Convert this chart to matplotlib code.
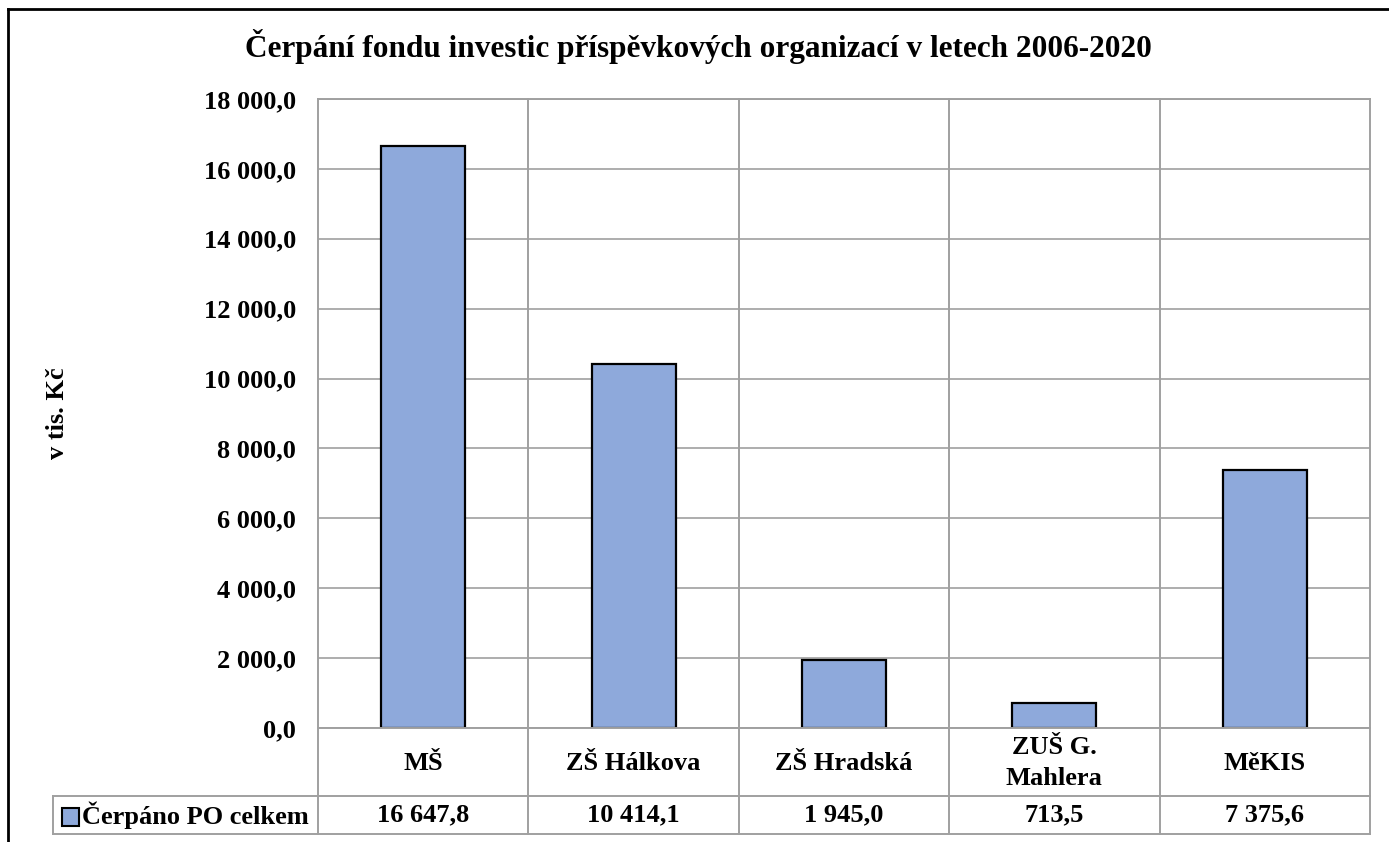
import matplotlib
matplotlib.use("Agg")
import matplotlib.pyplot as plt
from matplotlib.lines import Line2D
from matplotlib.patches import Rectangle
import numpy as np

categories = ["MŠ", "ZŠ Hálkova", "ZŠ Hradská", "ZUŠ G.\nMahlera", "MěKIS"]
values = [16647.8, 10414.1, 1945.0, 713.5, 7375.6]
series_name = "Čerpáno PO celkem"
title = "Čerpání fondu investic příspěvkových organizací v letech 2006-2020"
ylabel = "v tis. Kč"
yticks = list(range(0, 18001, 2000))

def fmt(v):
    s = f"{v:,.1f}".replace(",", " ").replace(".", ",")
    return s

W, H = 1389, 842
plt.rcParams['font.family'] = ['Liberation Serif', 'DejaVu Serif']
plt.rcParams['font.weight'] = 'bold'
fig = plt.figure(figsize=(W / 100, H / 100), dpi=100)

def fx(x): return x / W
def fy(y): return 1 - y / H

L, R, T, B = 318, 1370, 99, 728
ROW1, ROW2 = 796, 834
TL = 53
FS = 19
ax = fig.add_axes([fx(L), fy(B), fx(R) - fx(L), fy(T) - fy(B)])
n = len(categories)
x = np.arange(n)
barcolor = "#8EA9DB"
gridc = "#A0A0A0"
ax.bar(x, values, width=0.4, color=barcolor, edgecolor="black", linewidth=1.6, zorder=3)
ax.set_xlim(-0.5, n - 0.5)
ax.set_ylim(0, 18000)
ax.set_yticks(yticks)
ax.set_yticklabels([fmt(v) for v in yticks], fontsize=FS, fontweight='bold')
ax.tick_params(axis='y', length=0, pad=16)
ax.set_xticks([])
ax.grid(axis='y', color=gridc, linewidth=1.2)
for s in ax.spines.values():
    s.set_visible(False)
ax.set_axisbelow(True)

def line(x0, y0, x1, y1, c=gridc, lw=1.4):
    fig.add_artist(Line2D([fx(x0), fx(x1)], [fy(y0), fy(y1)], color=c, linewidth=lw))

cw = (R - L) / n
for i in range(n + 1):
    xb = L + i * cw
    line(xb, T, xb, ROW2)
line(L, T, R, T)
line(L, B, R, B)
line(TL, ROW1, R, ROW1)
line(TL, ROW2, R, ROW2)
line(TL, ROW1, TL, ROW2)

for i, c in enumerate(categories):
    xc = L + (i + 0.5) * cw
    fig.text(fx(xc), fy((B + ROW1) / 2 + 1), c, ha='center', va='center', fontsize=FS,
             fontweight='bold', linespacing=1.45)
    fig.text(fx(xc), fy((ROW1 + ROW2) / 2), fmt(values[i]), ha='center', va='center',
             fontsize=FS, fontweight='bold')

fig.add_artist(Rectangle((fx(62), fy(826)), fx(79) - fx(62), fy(808) - fy(826), facecolor=barcolor,
                         edgecolor='black', linewidth=1.5, transform=fig.transFigure))
fig.text(fx(82), fy((ROW1 + ROW2) / 2), series_name, ha='left', va='center', fontsize=FS,
         fontweight='bold')

fig.text(fx(58), fy(413), ylabel, rotation=90, ha='center', va='center', fontsize=FS,
         fontweight='bold')
fig.text(fx(698), fy(47), title, ha='center', va='center', fontsize=22.5, fontweight='bold')

# outer chart border
line(8, 9, W, 9, c='black', lw=2)
line(8, 9, 8, H, c='black', lw=2)

fig.savefig("out.png", dpi=100)
